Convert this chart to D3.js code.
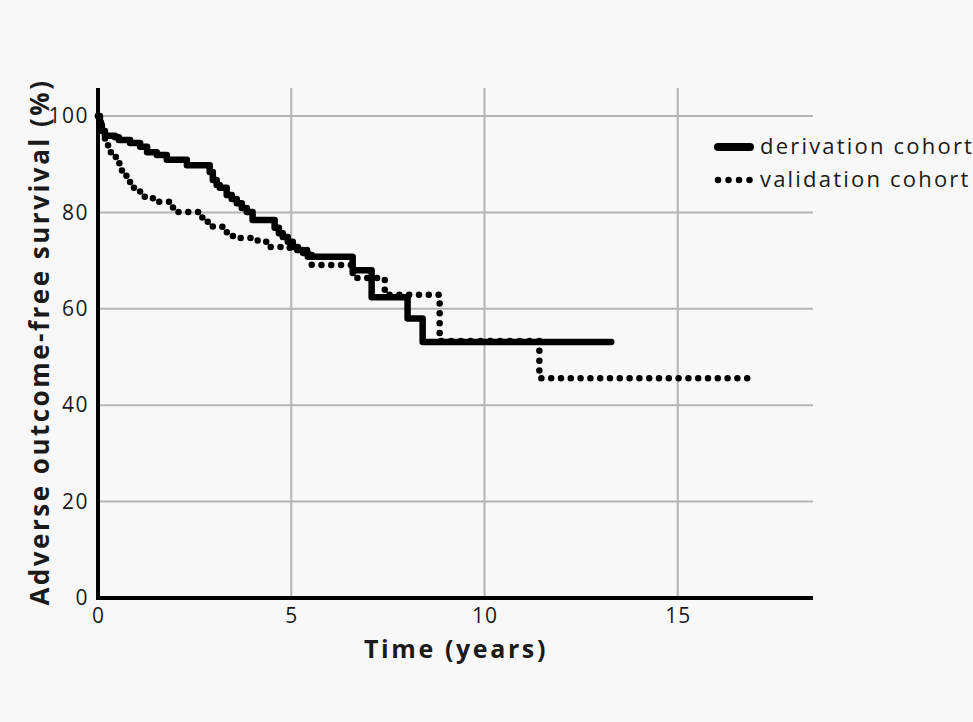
<!DOCTYPE html>
<html><head><meta charset="utf-8">
<script src="https://cdn.jsdelivr.net/npm/d3@7"></script>
<style>
html,body{margin:0;padding:0;background:#f8f8f8;}
svg{display:block;}
text{font-family:"Open Sans",sans-serif;fill:#1a1a1a;}
</style></head><body>
<svg id="c" width="973" height="722"></svg>
<script>
// Kaplan-Meier step data: [time (years), survival (%)]
const derivationTimes = [0,0.05,0.1,0.18,0.44,0.54,0.83,1.09,1.27,1.52,1.78,2.3,2.89,2.97,3.07,3.15,3.33,3.46,3.59,3.72,3.85,4.0,4.57,4.68,4.78,4.91,5.04,5.17,5.30,5.43,6.59,7.08,8.01,8.40,13.28];
const derivationSurv  = [100,98.1,96.9,95.9,95.6,95.0,94.4,93.6,92.5,91.9,90.9,89.8,88.4,86.7,85.7,85.1,83.6,82.8,81.9,80.9,80.1,78.4,76.8,75.7,74.9,73.9,72.8,72.2,71.6,70.8,68.0,62.4,58.0,53.1,53.1];
const validationTimes = [0,0.08,0.13,0.18,0.26,0.31,0.39,0.49,0.57,0.62,0.70,0.75,0.83,1.09,1.21,1.42,1.94,2.70,2.84,2.97,3.23,3.49,4.13,4.37,4.96,5.53,6.59,7.42,8.84,11.42,16.85];
const validationSurv  = [100,98.1,96.3,94.6,93.6,92.5,91.5,90.2,89.2,88.4,87.6,86.7,85.1,84.2,83.2,82.2,80.1,78.8,78.0,77.0,75.9,74.7,73.9,72.8,72.2,69.1,66.4,62.9,53.3,45.6,45.6];
const xTicks = [0,5,10,15];
const yTicks = [0,20,40,60,80,100];
const seriesNames = ["derivation cohort","validation cohort"];

const svg = d3.select("#c");
const x = d3.scaleLinear().domain([0,18.5]).range([98,813]);
const y = d3.scaleLinear().domain([0,100]).range([598,116]);
const yTop = 88;

// grid
const g = svg.append("g");
g.selectAll(".hg").data(yTicks.filter(d=>d>0)).enter().append("line")
  .attr("x1",x(0)).attr("x2",x(18.5)).attr("y1",d=>y(d)).attr("y2",d=>y(d))
  .attr("stroke","#b4b4b4").attr("stroke-width",2);
g.selectAll(".vg").data(xTicks.filter(d=>d>0)).enter().append("line")
  .attr("x1",d=>x(d)).attr("x2",d=>x(d)).attr("y1",yTop).attr("y2",y(0))
  .attr("stroke","#b4b4b4").attr("stroke-width",2);

// axes via d3 axis (labels only)
const xAxis = svg.append("g").attr("transform",`translate(0,${y(0)})`)
  .call(d3.axisBottom(x).tickValues(xTicks).tickSize(0).tickPadding(10));
xAxis.select(".domain").remove();
xAxis.selectAll("text").attr("font-size",21).attr("font-family","Open Sans").attr("fill","#1a1a1a").attr("letter-spacing","1px");
const yAxis = svg.append("g").attr("transform",`translate(${x(0)},0)`)
  .call(d3.axisLeft(y).tickValues(yTicks).tickSize(0).tickPadding(9));
yAxis.select(".domain").remove();
yAxis.selectAll("text").attr("font-size",21).attr("font-family","Open Sans").attr("fill","#1a1a1a").attr("letter-spacing","1.5px");

// curves
const line = d3.line().x(d=>x(d[0])).y(d=>y(d[1])).curve(d3.curveStepAfter);
const derivation = derivationTimes.map((t,i)=>[t,derivationSurv[i]]);
const validation = validationTimes.map((t,i)=>[t,validationSurv[i]]);
svg.append("path").datum(validation).attr("d",line).attr("fill","none")
  .attr("stroke","#000").attr("stroke-width",6.5).attr("stroke-linecap","round")
  .attr("stroke-dasharray","0,9.8");
svg.append("path").datum(derivation).attr("d",line).attr("fill","none")
  .attr("stroke","#000").attr("stroke-width",6.5).attr("stroke-linecap","round").attr("stroke-linejoin","round");

// axis lines
svg.append("line").attr("x1",x(0)).attr("x2",x(0)).attr("y1",yTop).attr("y2",y(0)+2)
  .attr("stroke","#000").attr("stroke-width",4);
svg.append("line").attr("x1",x(0)-2).attr("x2",x(18.5)).attr("y1",y(0)).attr("y2",y(0))
  .attr("stroke","#000").attr("stroke-width",4);

// axis titles
svg.append("text").attr("x",456).attr("y",658).attr("text-anchor","middle")
  .attr("font-size",25).attr("font-weight","bold").attr("letter-spacing","2.6px").text("Time (years)");
svg.append("text").attr("transform","translate(49,342) rotate(-90)").attr("text-anchor","middle")
  .attr("font-size",26).attr("font-weight","bold").attr("letter-spacing","2.5px").text("Adverse outcome-free survival (%)");

// legend
const leg = svg.append("g");
seriesNames.forEach((n,i)=>{
  const ly = 147 + i*33;
  leg.append("line").attr("x1",718).attr("x2",750).attr("y1",ly).attr("y2",ly)
    .attr("stroke","#000").attr("stroke-width",i===0?8:6.5).attr("stroke-linecap","round")
    .attr("stroke-dasharray",i===0?null:"0,10.5");
  leg.append("text").attr("x",760).attr("y",ly+7).attr("font-size",22)
    .attr("letter-spacing","2.2px").text(n);
});
</script></body></html>
